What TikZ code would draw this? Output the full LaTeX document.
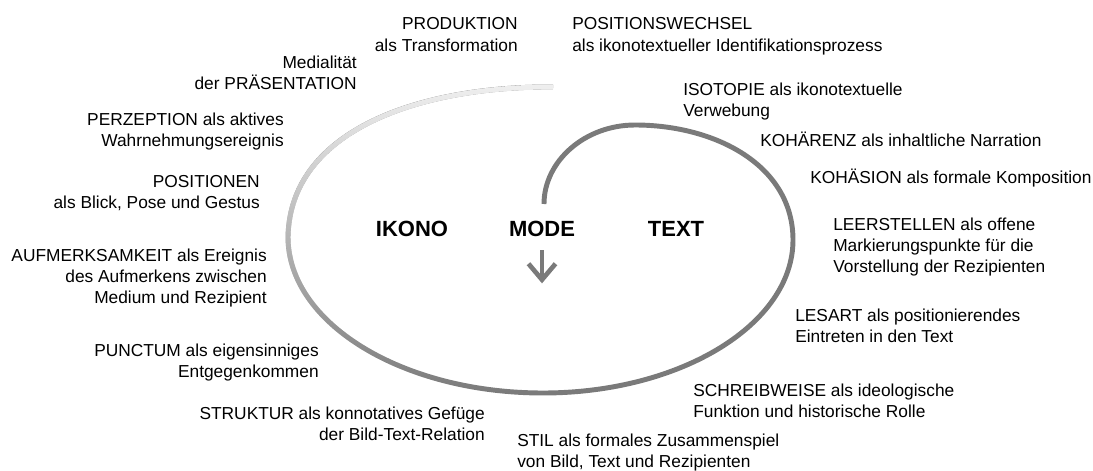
\documentclass[tikz,border=0pt]{standalone}
\usepackage{fontspec}
\setmainfont{Liberation Sans}
\usetikzlibrary{positioning,fadings}

\definecolor{spiralgray}{HTML}{7A7A7A}
\definecolor{spirallight}{HTML}{F0F0F0}
\tikzfading[name=spiralfade, top color=transparent!0, middle color=transparent!35, bottom color=transparent!100]

\begin{document}
\begin{tikzpicture}[x=0.75pt,y=-0.75pt,
  lbl/.style={inner sep=0pt, font=\fontsize{13}{15.5}\selectfont},
  lefttxt/.style={lbl, align=right, anchor=base east},
  righttxt/.style={lbl, align=left, anchor=base west},
  modelbl/.style={inner sep=0pt, font=\fontsize{16.5}{18}\selectfont\bfseries},
  spiral/.style={line width=3.7pt, draw=spiralgray},
  modearrow/.style={line width=3.5pt, draw=spiralgray, line join=miter}]
\useasboundingbox (0,0) rectangle (1093,471);

% the spiral
\draw[spiral] (553,87) .. controls (420,86) and (290,130) .. (288,237)
  .. controls (288,323) and (402,393) .. (543,393)
  .. controls (681,393) and (793,324) .. (793,240)
  .. controls (793,165) and (715,125) .. (635,125)
  .. controls (585,125) and (544,161) .. (544,204);
\draw[spiral, draw=spirallight, path fading=spiralfade] (553,87)
  .. controls (420,86) and (290,130) .. (288,237)
  .. controls (288,323) and (402,393) .. (543,393);

% centre
\node[modelbl] (ikono) at (412,229) {IKONO};
\node[modelbl] (mode) at (542,229) {MODE};
\node[modelbl] (text) at (676,229) {TEXT};
\coordinate[below=10pt of mode.south] (arrtop);
\coordinate[below=22pt of arrtop] (arrtip);
\draw[modearrow] (arrtop) -- (arrtip);
\draw[modearrow] (arrtip) ++(-13.5,-16) -- (arrtip) -- ++(13.5,-16);

% ikono side (placed at the baseline of the last line)
\node[lefttxt, font=\fontsize{13}{16.5}\selectfont] (produktion) at (518,51) {PRODUKTION\\als Transformation};
\node[lefttxt] (medialitaet) at (357,89) {Medialität\\der PRÄSENTATION};
\node[lefttxt] (perzeption) at (284,146) {PERZEPTION als aktives\\Wahrnehmungsereignis};
\node[lefttxt] (positionen) at (260,208) {POSITIONEN\\als Blick, Pose und Gestus};
\node[lefttxt] (aufmerksamkeit) at (267,303) {AUFMERKSAMKEIT als Ereignis\\des Aufmerkens zwischen\\Medium und Rezipient};
\node[lefttxt] (punctum) at (319,377) {PUNCTUM als eigensinniges\\Entgegenkommen};
\node[lefttxt] (struktur) at (485,440) {STRUKTUR als konnotatives Gefüge\\der Bild-Text-Relation};

% text side
\node[righttxt, font=\fontsize{13}{16.5}\selectfont] (wechsel) at (572,51) {POSITIONSWECHSEL\\als ikonotextueller Identifikationsprozess};
\node[righttxt] (isotopie) at (683,116) {ISOTOPIE als ikonotextuelle\\Verwebung};
\node[righttxt] (kohaerenz) at (760,146) {KOHÄRENZ als inhaltliche Narration};
\node[righttxt] (kohaesion) at (810,183) {KOHÄSION als formale Komposition};
\node[righttxt] (leerstellen) at (833,272) {LEERSTELLEN als offene\\Markierungspunkte für die\\Vorstellung der Rezipienten};
\node[righttxt] (lesart) at (795,342) {LESART als positionierendes\\Eintreten in den Text};
\node[righttxt] (schreibweise) at (693,417) {SCHREIBWEISE als ideologische\\Funktion und historische Rolle};
\node[righttxt] (stil) at (517,467) {STIL als formales Zusammenspiel\\von Bild, Text und Rezipienten};
\end{tikzpicture}
\end{document}
